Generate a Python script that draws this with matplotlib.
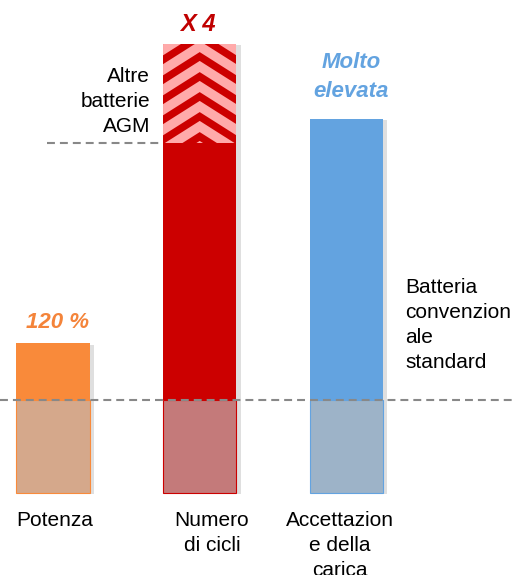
import numpy as np
import matplotlib
matplotlib.use("Agg")
import matplotlib.pyplot as plt
import matplotlib.patches as mpatches
import matplotlib.patheffects as pe

plt.rcParams['font.family'] = ['Liberation Sans', 'DejaVu Sans']

# data (standard battery = 1)
categories = ["Potenza", "Numero\ndi cicli", "Accettazion\ne della\ncarica"]
values = [1.61, 4.83, 4.02]
standard = 1.0
other_agm = 3.76
value_labels = ["120 %", "X 4", "Molto\nelevata"]

top_colors = ["#F98A3A", "#CC0000", "#63A3E0"]
low_colors = ["#D5A88B", "#C47A7A", "#9DB3C8"]
label_colors = ["#F4843A", "#C00000", "#63A3E0"]

fig = plt.figure(figsize=(5.14, 5.75), dpi=100)
ax = fig.add_axes([0, 0, 1, 1])
ax.set_xlim(-0.361, 3.142)
ax.set_ylim(-0.882, 5.30)
ax.axis('off')

x = np.arange(len(categories))
w = 0.5
line_step = 0.27  # ~25 px between text lines


def lines(xpos, ybase, text, step=line_step, **kw):
    # draw multi-line text one line at a time from the first baseline down
    for i, t in enumerate(text.split("\n")):
        ax.text(xpos, ybase - i * step, t, va='baseline', **kw)


shadow = [pe.SimplePatchShadow(offset=(3, -1), shadow_rgbFace='gray', alpha=0.25), pe.Normal()]

ax.bar(x, np.array(values) - standard, bottom=standard, width=w, color=top_colors,
       path_effects=shadow, zorder=2)
ax.bar(x, [standard] * 3, width=w, color=low_colors, edgecolor=top_colors, linewidth=0.8,
       path_effects=shadow, zorder=2)

# chevron hatch on top of the cycles bar
hx0 = x[1] - w / 2
hrect = mpatches.Rectangle((hx0, other_agm), w, values[1] - other_agm,
                           transform=ax.transData)
drop = 0.25
period = 0.215
thick = 0.12
for k in range(-2, 8):
    apex = values[1] + 0.03 - k * period
    xs = [hx0, x[1], hx0 + w, hx0 + w, x[1], hx0]
    ys = [apex - drop, apex, apex - drop, apex - drop - thick, apex - thick, apex - drop - thick]
    poly = mpatches.Polygon(np.column_stack([xs, ys]), closed=True, color="#FFAAAA",
                            lw=0, zorder=3)
    ax.add_patch(poly)
    poly.set_clip_path(hrect)

# reference lines
dash = (0, (3.8, 2.4))
ax.axhline(standard, color="#888888", lw=1.5, ls=dash, zorder=4)
ax.plot([-0.041, hx0], [other_agm, other_agm], color="#888888", lw=1.5, ls=dash, zorder=4)

# value labels
bold = dict(fontweight='bold', fontstyle='italic', ha='center')
lines(x[0] + 0.03, 1.774, value_labels[0], color=label_colors[0], fontsize=16, **bold)
lines(x[1] - 0.01, 4.968, value_labels[1], color=label_colors[1], fontsize=17, **bold)
lines(x[2] + 0.03, 4.57, value_labels[2], step=0.31, color=label_colors[2], fontsize=16, **bold)

# annotations
lines(0.661, 4.42, "Altre\nbatterie\nAGM", fontsize=15, ha='right')
lines(2.40, 2.15, "Batteria\nconvenzion\nale\nstandard", fontsize=15, ha='left')

# category labels
offsets = [0.01, 0.084, -0.047]
for xi, off, lab in zip(x, offsets, categories):
    lines(xi + off, -0.355, lab, fontsize=15, ha='center')

fig.savefig("out.png", dpi=100)
